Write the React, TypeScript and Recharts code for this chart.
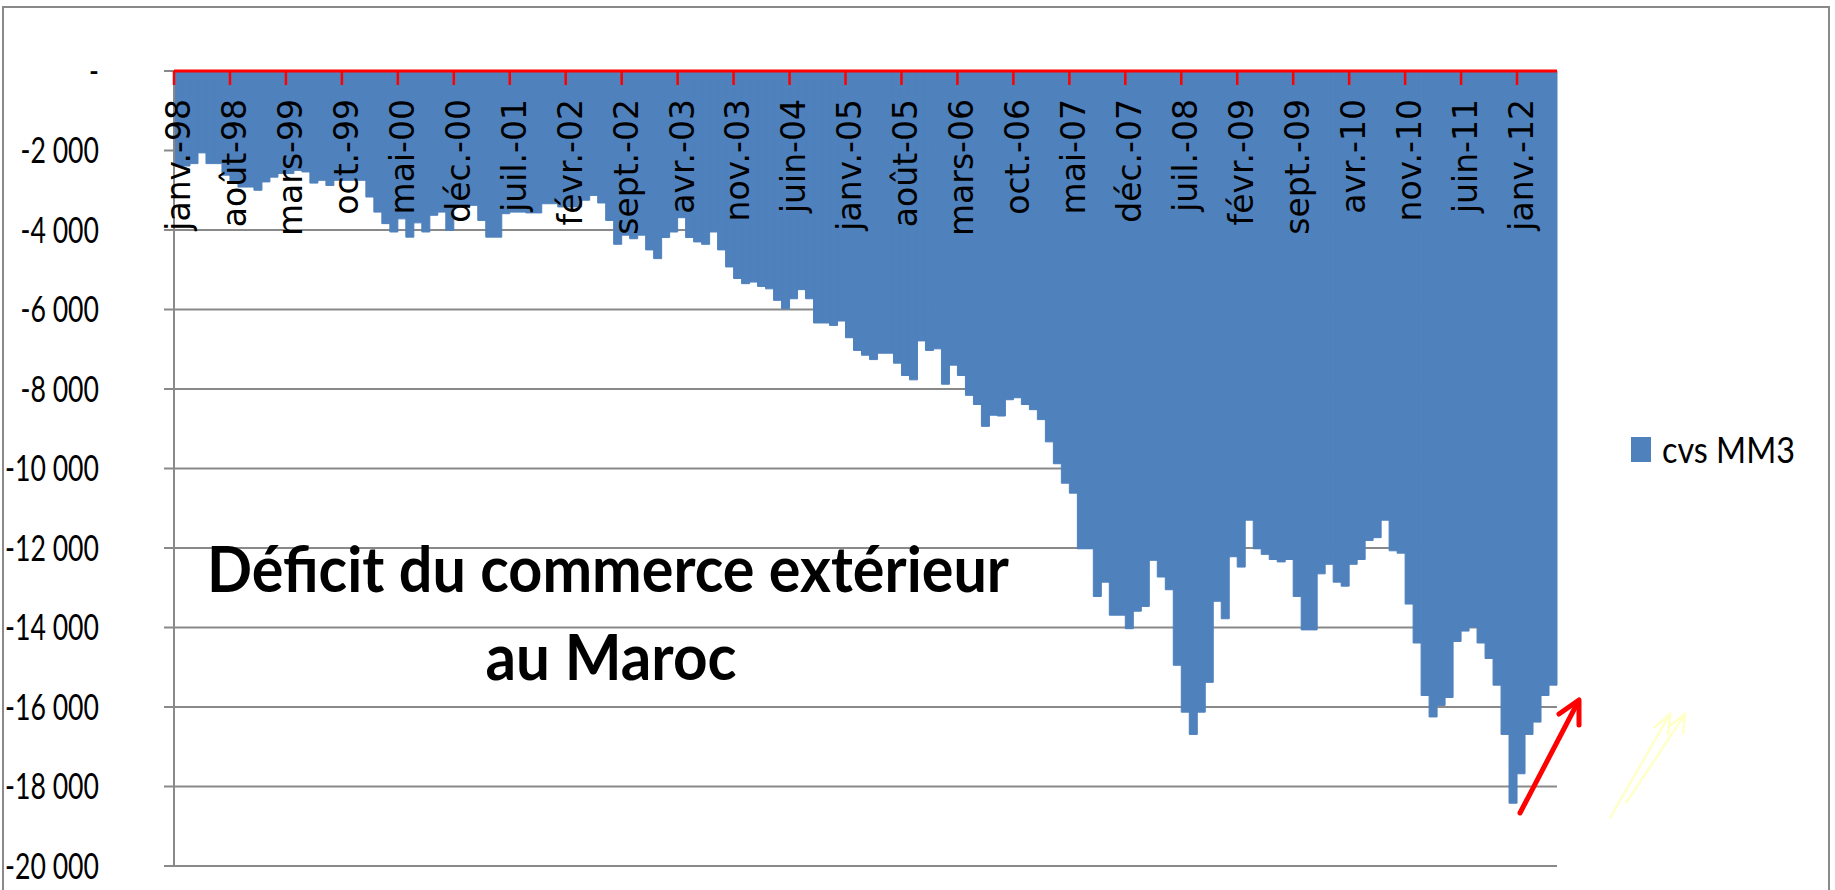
import { BarChart, Bar, XAxis, YAxis, CartesianGrid } from 'recharts';

// French month abbreviations and year suffixes for the category axis
const monthNames = ['janv.', 'févr.', 'mars', 'avr.', 'mai', 'juin', 'juil.', 'août', 'sept.', 'oct.', 'nov.', 'déc.'];
const yearLabels = ['98', '99', '00', '01', '02', '03', '04', '05', '06', '07', '08', '09', '10', '11', '12'];

// cvs MM3
const deficit1998 = [-2390, -2390, -2330, -2060, -2330, -2330, -2620, -2790, -2920, -2920, -3000, -2790];
const deficit1999 = [-2670, -2580, -2580, -2500, -2540, -2820, -2750, -2880, -2750, -2750, -2750, -2750];
const deficit2000 = [-3170, -3550, -3840, -4050, -3720, -4180, -3820, -4050, -3630, -3550, -4010, -3400];
const deficit2001 = [-3400, -3380, -3760, -4180, -4180, -3590, -3550, -3550, -3570, -3570, -3340, -3340];
const deficit2002 = [-3420, -3420, -3420, -3250, -3130, -3320, -3760, -4360, -4130, -4220, -4130, -4500];
const deficit2003 = [-4720, -4190, -4050, -3690, -4190, -4300, -4360, -4050, -4500, -4930, -5220, -5350];
const deficit2004 = [-5310, -5420, -5480, -5770, -5980, -5730, -5500, -5730, -6340, -6340, -6400, -6290];
const deficit2005 = [-6710, -7030, -7150, -7260, -7100, -7100, -7350, -7660, -7770, -6790, -7030, -6990];
const deficit2006 = [-7880, -7400, -7660, -8160, -8390, -8940, -8660, -8680, -8270, -8220, -8390, -8520];
const deficit2007 = [-8770, -9330, -9880, -10370, -10620, -12020, -12020, -13220, -12860, -13690, -13690, -14030];
const deficit2008 = [-13590, -13470, -12310, -12730, -13050, -14950, -16130, -16690, -16130, -15380, -13340, -13780];
const deficit2009 = [-12220, -12480, -11300, -12020, -12160, -12290, -12350, -12290, -13220, -14060, -14060, -12650];
const deficit2010 = [-12410, -12860, -12960, -12410, -12290, -11810, -11740, -11300, -12070, -12130, -13410, -14390];
const deficit2011 = [-15710, -16250, -15960, -15760, -14350, -14090, -13990, -14390, -14780, -15450, -16690, -18420];
const deficit2012 = [-17680, -16690, -16380, -15710, -15450];

const yTicks = [0, -2000, -4000, -6000, -8000, -10000, -12000, -14000, -16000, -18000, -20000];

const values = [
  ...deficit1998, ...deficit1999, ...deficit2000, ...deficit2001, ...deficit2002,
  ...deficit2003, ...deficit2004, ...deficit2005, ...deficit2006, ...deficit2007,
  ...deficit2008, ...deficit2009, ...deficit2010, ...deficit2011, ...deficit2012,
];

const data = values.map((v, i) => ({
  month: `${monthNames[i % 12]}-${yearLabels[Math.floor(i / 12)]}`,
  cvs: v,
}));

const BLUE = '#4F81BD';
const GRID = '#898989';
const RED = '#FF0000';
const FONT = "Lato, 'Open Sans', sans-serif";
const X_TICK_SIZE = 13;
const X_TICK_MARGIN = 15;

const fmt = (v: number) =>
  v === 0 ? '-' : `${v < 0 ? '-' : ''}${Math.abs(v).toString().replace(/\B(?=(\d{3})+(?!\d))/g, ' ')}`;

// label rotated inside the plot + red tick mark on the category boundary (like Excel)
function MonthTick({ x, y, width, payload }: any) {
  const axisY = y - X_TICK_SIZE - X_TICK_MARGIN;
  const band = typeof width === 'number' && width > 0 ? width / data.length : 8;
  const bx = x - band / 2;
  return (
    <g>
      <rect x={bx - 1.25} y={axisY} width={2.5} height={14} fill={RED} />
      <text
        x={x}
        y={y}
        transform={`rotate(-90, ${x}, ${y})`}
        textAnchor="end"
        dy="0.36em"
        fontFamily="'DejaVu Sans', sans-serif"
        fontSize={33}
        fill="#000"
      >
        {payload.value}
      </text>
    </g>
  );
}

// Calibri-like narrow numbers
function ValueTick({ x, y, payload }: any) {
  return (
    <text
      transform={`translate(${x}, ${y}) scale(0.74, 1)`}
      textAnchor="end"
      dy="0.36em"
      fontFamily={FONT}
      fontSize={36}
      fill="#000"
    >
      {fmt(payload.value)}
    </text>
  );
}

export default function App() {
  return (
    <div style={{ position: 'absolute', left: 0, top: 0, width: 1835, height: 890, overflow: 'hidden', background: '#fff' }}>
      <div
        style={{
          position: 'absolute',
          left: 2,
          top: 6,
          width: 1828,
          height: 920,
          boxSizing: 'border-box',
          border: `2.5px solid ${GRID}`,
        }}
      />
      <div style={{ position: 'absolute', left: 0, top: 0 }}>
        <BarChart
          width={1835}
          height={890}
          data={data}
          margin={{ top: 71, right: 278, bottom: 24, left: 0 }}
          barCategoryGap={0}
          barGap={0}
        >
          <CartesianGrid vertical={false} stroke={GRID} strokeWidth={2} />
          <Bar dataKey="cvs" fill={BLUE} stroke={BLUE} strokeWidth={1} isAnimationActive={false} />
          <XAxis
            dataKey="month"
            orientation="top"
            mirror
            interval={6}
            axisLine={{ stroke: RED, strokeWidth: 3 }}
            tickLine={false}
            tickSize={X_TICK_SIZE}
            tickMargin={X_TICK_MARGIN}
            tick={<MonthTick />}
          />
          <YAxis
            domain={[-20000, 0]}
            ticks={yTicks}
            interval={0}
            width={174}
            tickSize={10}
            tickMargin={65}
            axisLine={{ stroke: GRID, strokeWidth: 2 }}
            tickLine={{ stroke: GRID, strokeWidth: 2 }}
            tick={<ValueTick />}
          />
        </BarChart>
      </div>
      <svg
        width={1835}
        height={890}
        style={{ position: 'absolute', left: 0, top: 0, pointerEvents: 'none' }}
      >
        <text
          x={608}
          y={592}
          textAnchor="middle"
          fontFamily={FONT}
          fontWeight="bold"
          fontSize={64}
          textLength={802}
          lengthAdjust="spacingAndGlyphs"
          fill="#000"
        >
          Déficit du commerce extérieur
        </text>
        <text
          x={611}
          y={680}
          textAnchor="middle"
          fontFamily={FONT}
          fontWeight="bold"
          fontSize={64}
          textLength={251}
          lengthAdjust="spacingAndGlyphs"
          fill="#000"
        >
          au Maroc
        </text>
        {/* legend */}
        <rect x={1631} y={437} width={20} height={25} fill={BLUE} />
        <text x={1662} y={463} fontFamily={FONT} fontSize={36} textLength={133} lengthAdjust="spacingAndGlyphs" fill="#000">
          cvs MM3
        </text>
        {/* red arrow */}
        <g stroke={RED} strokeWidth={5} strokeLinecap="round" strokeLinejoin="round" fill="none">
          <line x1={1520} y1={813} x2={1578} y2={702} />
          <polyline points="1559,714 1579,700 1579,725" />
        </g>
        {/* pale yellow arrows */}
        <g stroke="#FFFFC8" strokeWidth={2.5} fill="none">
          <line x1={1610} y1={818} x2={1670} y2={714} />
          <line x1={1626} y1={803} x2={1685} y2={714} />
          <polyline points="1654,728 1670,714 1668,735" />
          <polyline points="1668,727 1685,714 1683,734" />
        </g>
      </svg>
    </div>
  );
}
